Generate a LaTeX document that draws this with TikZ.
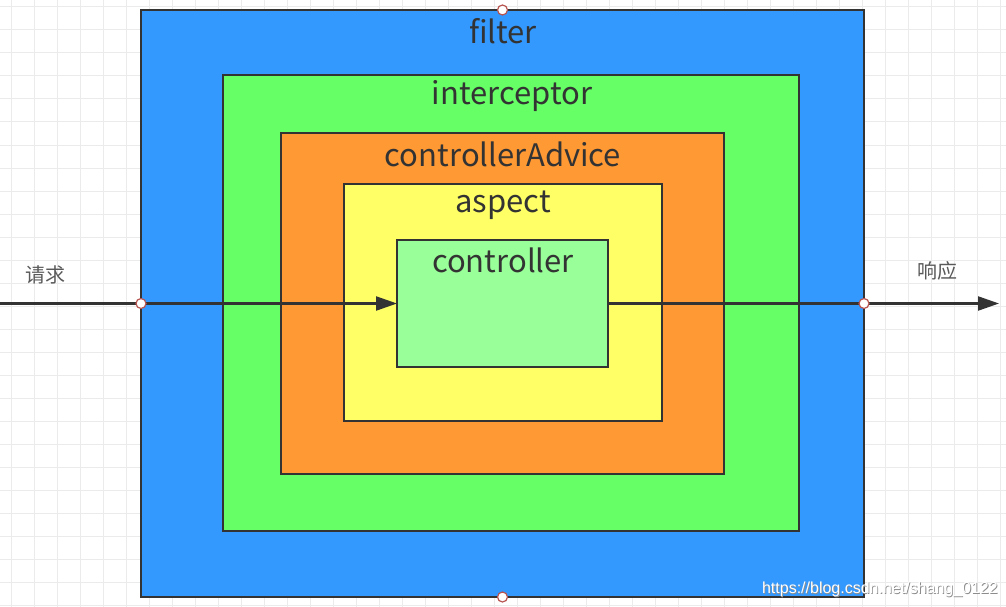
\documentclass[tikz,border=0pt]{standalone}
\usepackage{fontspec}
\setmainfont{Noto Sans CJK SC}
\newfontfamily\wmfont{Liberation Sans}
\usetikzlibrary{arrows.meta}
\definecolor{cblue}{HTML}{3399FF}
\definecolor{cgreen}{HTML}{66FF66}
\definecolor{corange}{HTML}{FF9933}
\definecolor{cyellow}{HTML}{FFFF66}
\definecolor{clgreen}{HTML}{99FF99}
\definecolor{cstroke}{HTML}{333333}
\definecolor{cgrid}{HTML}{EBEBEB}
\definecolor{cport}{HTML}{B85450}
\tikzset{
  layer/.style={draw=cstroke, line width=2.2pt, inner sep=0pt, outer sep=0pt},
  layertext/.style={text=cstroke, font=\fontsize{31}{36}\selectfont, inner sep=0pt},
  sidetext/.style={text=black!65, font=\fontsize{20}{24}\selectfont, inner sep=0pt},
  gridline/.style={draw=cgrid, line width=1pt},
  flow/.style={draw=cstroke, line width=2.2pt, -{Triangle[length=21pt,width=14pt]}},
  port/.style={circle, draw=cport, fill=white, line width=1.2pt, minimum size=10pt, inner sep=0pt},
  wmtext/.style={font=\wmfont\fontsize{16}{18}\selectfont, inner sep=0pt, anchor=south east},
}
\begin{document}
\begin{tikzpicture}[x=1pt,y=-1pt]
\useasboundingbox (0,0) rectangle (1006,607);
\fill[white] (0,0) rectangle (1006,607);
\foreach \i in {0,...,43} \draw[gridline] ({11+23*\i},0) -- ({11+23*\i},607);
\foreach \j in {0,...,26} \draw[gridline] (0,{7+23*\j}) -- (1006,{7+23*\j});
% layers
\node[layer, fill=cblue, minimum width=723pt, minimum height=587pt] (filter) at (502.5,303.5) {};
\node[layer, fill=cgreen, minimum width=576pt, minimum height=456pt] (interceptor) at (511,303) {};
\node[layer, fill=corange, minimum width=443pt, minimum height=341pt] (advice) at (502.5,303.5) {};
\node[layer, fill=cyellow, minimum width=318pt, minimum height=237pt] (aspect) at (503,302.5) {};
\node[layer, fill=clgreen, minimum width=211pt, minimum height=127pt] (controller) at (502.5,303.5) {};
% labels
\node[layertext] (tfilter) at (503,31) {filter};
\node[layertext] (tinterceptor) at (512,96) {interceptor};
\node[layertext] (tadvice) at (503,154) {controllerAdvice};
\node[layertext] (taspect) at (503,205) {aspect};
\node[layertext] (tcontroller) at (503,260) {controller};
% flow
\coordinate (start) at (0,303.5);
\coordinate (end) at (999,303.5);
\draw[flow] (start) -- (controller.west);
\draw[flow] (controller.east) -- (end);
% ports
\node[port] (pw) at (filter.west |- start) {};
\node[port] (pe) at (filter.east |- start) {};
\node[port] (pn) at (filter.north) {};
\node[port] (ps) at (filter.south) {};
% side labels
\node[sidetext] (req) at (45,275) {请求};
\node[sidetext] (resp) at (937,271) {响应};
\node[wmtext, text=black!45] (wmshadow) at (998.8,597.8) {https://blog.csdn.net/shang\_0122};
\node[wmtext, text=white] (wm) at (998,597) {https://blog.csdn.net/shang\_0122};
\end{tikzpicture}
\end{document}
